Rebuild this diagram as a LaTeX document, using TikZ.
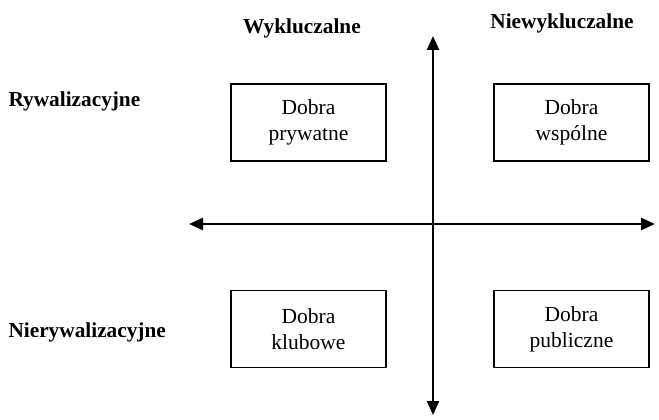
\documentclass[tikz,border=0pt]{standalone}
\usepackage{fontspec}
\setmainfont{Liberation Serif}
\usetikzlibrary{arrows.meta}
\begin{document}
\begin{tikzpicture}[x=1pt,y=-1pt,
  goods/.style={draw,line width=1.8pt,minimum width=155pt,minimum height=77pt,align=center,font=\fontsize{21.5}{26}\selectfont},
  axislabel/.style={font=\fontsize{21.3}{25}\selectfont\bfseries},
  axis/.style={line width=2.4pt,-{Triangle[length=14pt,width=12pt]}}]
\useasboundingbox (0,0) rectangle (659,420);
% osie
\coordinate (O) at (433,224);
\coordinate (top) at (433,36);
\coordinate (bottom) at (433,415);
\coordinate (left) at (189,224);
\coordinate (right) at (655,224);
\draw[axis] (O) -- (top);
\draw[axis] (O) -- (bottom);
\draw[axis] (O) -- (left);
\draw[axis] (O) -- (right);
% opisy
\node[axislabel] (wyk) at (302,28) {Wykluczalne};
\node[axislabel] (niewyk) at (562,23) {Niewykluczalne};
\node[axislabel,anchor=west] (ryw) at (5,101) {Rywalizacyjne};
\node[axislabel,anchor=west] (nieryw) at (5,332) {Nierywalizacyjne};
% dobra
\node[goods] (prywatne) at (308.5,122.5) {Dobra\\prywatne};
\node[goods] (wspolne) at (571.5,122.5) {Dobra\\wspólne};
\node[goods] (klubowe) at (308.5,329) {Dobra\\klubowe};
\node[goods] (publiczne) at (571.5,329) {Dobra\\publiczne};
\end{tikzpicture}
\end{document}
